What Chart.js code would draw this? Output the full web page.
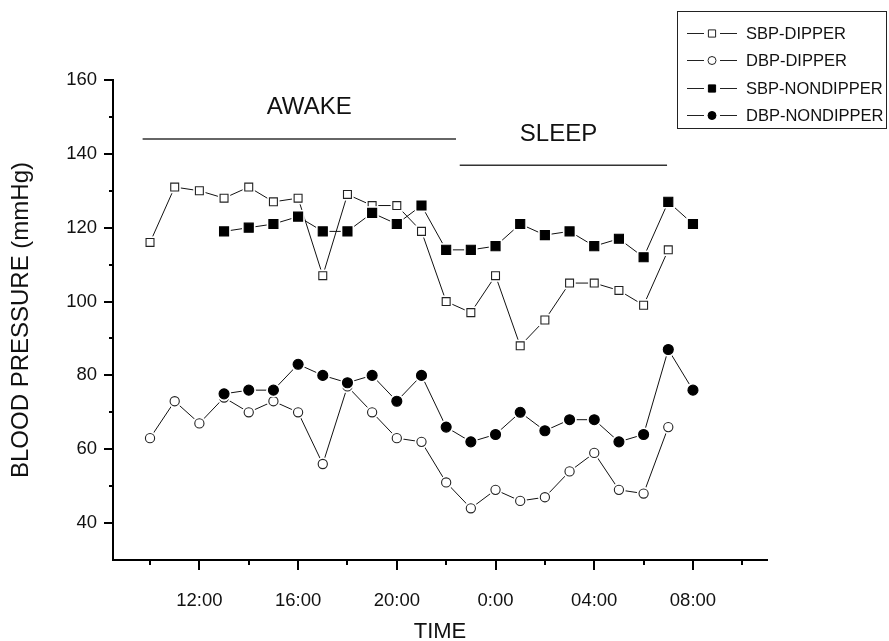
<!DOCTYPE html>
<html>
<head>
<meta charset="utf-8">
<script src="https://cdn.jsdelivr.net/npm/chart.js@4/dist/chart.umd.min.js"></script>
<style>
  html, body { margin: 0; padding: 0; background: #fff; }
  #c { display: block; }
</style>
</head>
<body>
<canvas id="c" width="889" height="641"></canvas>
<script>
// Hours of the day; values past midnight continue as 24, 25, ... so the line stays continuous.
const dipperHours    = [10, 11, 12, 13, 14, 15, 16, 17, 18, 19, 20, 21, 22, 23, 24, 25, 26, 27, 28, 29, 30, 31];
const nondipperHours = [13, 14, 15, 16, 17, 18, 19, 20, 21, 22, 23, 24, 25, 26, 27, 28, 29, 30, 31, 32];

// Blood pressure readings (mmHg)
const sbpDipper    = [116, 131, 130, 128, 131, 127, 128, 107, 129, 126, 126, 119, 100, 97, 107, 88, 95, 105, 105, 103, 99, 114];
const dbpDipper    = [63, 73, 67, 74, 70, 73, 70, 56, 77, 70, 63, 62, 51, 44, 49, 46, 47, 54, 59, 49, 48, 66];
const sbpNondipper = [119, 120, 121, 123, 119, 119, 124, 121, 126, 114, 114, 115, 121, 118, 119, 115, 117, 112, 127, 121];
const dbpNondipper = [75, 76, 76, 83, 80, 78, 80, 73, 80, 66, 62, 64, 70, 65, 68, 68, 62, 64, 87, 76];

const seriesNames = ['SBP-DIPPER', 'DBP-DIPPER', 'SBP-NONDIPPER', 'DBP-NONDIPPER'];

// Axis ticks
const xTickHours    = [10, 12, 14, 16, 18, 20, 22, 24, 26, 28, 30, 32, 34];
const labelledHours = [12, 16, 20, 24, 28, 32];
const hourLabels    = ['12:00', '16:00', '20:00', '0:00', '04:00', '08:00'];
const yMajorTicks = [40, 60, 80, 100, 120, 140, 160];
const yMinorTicks = [50, 70, 90, 110, 130, 150];

// Awake / sleep period markers (hours, mmHg)
const periodNames = ['AWAKE', 'SLEEP'];
const periodStart = [9.7, 22.55];
const periodEnd   = [22.4, 30.95];
const periodLineY = [144, 136.9];
const periodTextX = [16.45, 26.55];
const periodTextY = [152.6, 145.4];

const FONT = '"Liberation Sans", Arial, Helvetica, sans-serif';

function toPoints(hours, values) {
  return hours.map((h, i) => ({ x: h, y: values[i] }));
}

function markerStyle(style, filled, radius) {
  return {
    pointStyle: style,
    pointRadius: radius,
    pointHoverRadius: radius,
    pointBackgroundColor: filled ? '#000' : '#fff',
    pointBorderColor: filled ? '#000' : '#222',
    pointBorderWidth: 1.1,
    borderColor: '#111',
    borderWidth: 1,
    backgroundColor: filled ? '#000' : '#fff',
    fill: false,
    tension: 0
  };
}

const datasets = [
  Object.assign({ label: seriesNames[0], data: toPoints(dipperHours, sbpDipper) }, markerStyle('rect', false, 5.6)),
  Object.assign({ label: seriesNames[1], data: toPoints(dipperHours, dbpDipper) }, markerStyle('circle', false, 4.6)),
  Object.assign({ label: seriesNames[2], data: toPoints(nondipperHours, sbpNondipper) }, markerStyle('rect', true, 6.4)),
  Object.assign({ label: seriesNames[3], data: toPoints(nondipperHours, dbpNondipper) }, markerStyle('circle', true, 5))
];

// Leave a small white gap between each connecting line and its marker
const pointGaps = {
  id: 'pointGaps',
  afterDatasetsDraw(chart) {
    const ctx = chart.ctx;
    chart.data.datasets.forEach((ds, i) => {
      const meta = chart.getDatasetMeta(i);
      meta.data.forEach(pt => {
        const r = ds.pointRadius;
        ctx.save();
        ctx.fillStyle = '#fff';
        ctx.beginPath();
        if (ds.pointStyle === 'rect') {
          const s = r * Math.SQRT1_2 + 2.2;
          ctx.rect(pt.x - s, pt.y - s, 2 * s, 2 * s);
        } else {
          ctx.arc(pt.x, pt.y, r + 2.2, 0, Math.PI * 2);
        }
        ctx.fill();
        ctx.restore();
        pt.draw(ctx, chart.chartArea);
      });
    });
  }
};

// Outward tick marks: long ones carry a label, short ones sit between them
const tickMarks = {
  id: 'tickMarks',
  afterDraw(chart) {
    const { ctx, scales: { x, y } } = chart;
    ctx.save();
    ctx.strokeStyle = '#000';
    ctx.lineWidth = 2;
    ctx.beginPath();
    xTickHours.forEach(h => {
      const px = Math.round(x.getPixelForValue(h));
      const len = labelledHours.includes(h) ? 10 : 5;
      ctx.moveTo(px, y.bottom);
      ctx.lineTo(px, y.bottom + len);
    });
    yMajorTicks.forEach(v => {
      const py = Math.round(y.getPixelForValue(v));
      ctx.moveTo(x.left, py);
      ctx.lineTo(x.left - 9, py);
    });
    yMinorTicks.forEach(v => {
      const py = Math.round(y.getPixelForValue(v));
      ctx.moveTo(x.left, py);
      ctx.lineTo(x.left - 4, py);
    });
    ctx.stroke();
    ctx.restore();
  }
};

// AWAKE / SLEEP bars with their captions
const periodMarks = {
  id: 'periodMarks',
  afterDatasetsDraw(chart) {
    const { ctx, scales: { x, y } } = chart;
    ctx.save();
    ctx.strokeStyle = '#333';
    ctx.lineWidth = 1.5;
    ctx.fillStyle = '#111';
    ctx.font = '24px ' + FONT;
    ctx.textAlign = 'center';
    ctx.textBaseline = 'middle';
    periodNames.forEach((name, i) => {
      const py = y.getPixelForValue(periodLineY[i]);
      ctx.beginPath();
      ctx.moveTo(x.getPixelForValue(periodStart[i]), py);
      ctx.lineTo(x.getPixelForValue(periodEnd[i]), py);
      ctx.stroke();
      ctx.fillText(name, x.getPixelForValue(periodTextX[i]), y.getPixelForValue(periodTextY[i]));
    });
    ctx.restore();
  }
};

function drawMarker(ctx, ds, cx, cy, r) {
  ctx.save();
  ctx.fillStyle = ds.pointBackgroundColor;
  ctx.strokeStyle = ds.pointBorderColor;
  ctx.lineWidth = 1;
  ctx.beginPath();
  if (ds.pointStyle === 'rect') {
    ctx.rect(cx - r, cy - r, 2 * r, 2 * r);
  } else {
    ctx.arc(cx, cy, r, 0, Math.PI * 2);
  }
  ctx.fill();
  ctx.stroke();
  ctx.restore();
}

// Boxed legend in the top-right corner
const boxLegend = {
  id: 'boxLegend',
  afterDraw(chart) {
    const ctx = chart.ctx;
    ctx.save();
    ctx.strokeStyle = '#222';
    ctx.lineWidth = 1;
    ctx.strokeRect(677.5, 11.5, 209, 117);
    ctx.font = '16.5px ' + FONT;
    ctx.fillStyle = '#111';
    ctx.textAlign = 'left';
    ctx.textBaseline = 'middle';
    chart.data.datasets.forEach((ds, i) => {
      const cy = Math.round(33 + i * 27.3) + 0.5;
      ctx.strokeStyle = '#222';
      ctx.beginPath();
      ctx.moveTo(687, cy); ctx.lineTo(704, cy);
      ctx.moveTo(720, cy); ctx.lineTo(737, cy);
      ctx.stroke();
      drawMarker(ctx, ds, 712, cy, ds.pointStyle === 'rect' ? 3.6 : 4);
      ctx.fillText(ds.label, 746, cy + 1);
    });
    ctx.restore();
  }
};

new Chart(document.getElementById('c'), {
  type: 'line',
  data: { datasets },
  options: {
    responsive: false,
    animation: false,
    layout: { padding: { left: 0, top: 80, right: 122, bottom: 0 } },
    plugins: { legend: { display: false }, tooltip: { enabled: false } },
    scales: {
      x: {
        type: 'linear',
        min: 8.5,
        max: 35,
        afterBuildTicks: scale => { scale.ticks = xTickHours.map(v => ({ value: v })); },
        afterFit: scale => { scale.height = 81; },
        grid: { drawOnChartArea: false, drawTicks: true, tickLength: 10, color: 'rgba(0,0,0,0)' },
        border: { display: true, color: '#000', width: 2 },
        ticks: {
          autoSkip: false,
          maxRotation: 0,
          padding: 20,
          color: '#111',
          font: { family: FONT, size: 18.5 },
          callback: v => {
            const k = labelledHours.indexOf(v);
            return k >= 0 ? hourLabels[k] : '';
          }
        },
        title: {
          display: true,
          text: 'TIME',
          color: '#111',
          font: { family: FONT, size: 22, lineHeight: 0.8 },
          padding: { top: 0, bottom: 0.5 }
        }
      },
      y: {
        type: 'linear',
        min: 30,
        max: 160,
        afterBuildTicks: scale => { scale.ticks = yMajorTicks.map(v => ({ value: v })); },
        afterFit: scale => { scale.width = 113; },
        grid: { drawOnChartArea: false, drawTicks: true, tickLength: 9, color: 'rgba(0,0,0,0)' },
        border: { display: true, color: '#000', width: 2 },
        ticks: {
          padding: 7,
          color: '#111',
          font: { family: FONT, size: 18.5 }
        },
        title: {
          display: true,
          text: 'BLOOD PRESSURE (mmHg)',
          color: '#111',
          font: { family: FONT, size: 24, lineHeight: 1 },
          padding: { top: 9.5, bottom: 0 }
        }
      }
    }
  },
  plugins: [pointGaps, tickMarks, periodMarks, boxLegend]
});
</script>
</body>
</html>
